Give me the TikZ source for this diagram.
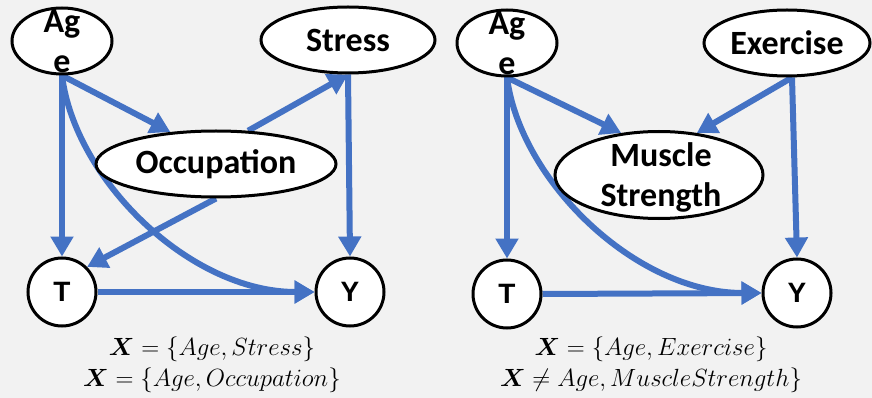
\documentclass[tikz,border=0pt]{standalone}
\usepackage{amsmath,bm}
\usepackage{fontspec}
\newfontfamily\calfont{Carlito}
\newfontfamily\arialfont{Liberation Sans}
\usetikzlibrary{arrows.meta,shapes.geometric}
\pgfdeclarelayer{back}
\pgfdeclarelayer{edges}
\pgfsetlayers{back,edges,main}
\definecolor{bgray}{HTML}{F2F2F2}
\definecolor{eblue}{HTML}{4472C4}
\tikzset{
  ell/.style={ellipse, draw, line width=3pt, fill=white, inner sep=0pt},
  circ/.style={circle, draw, line width=3pt, fill=white, minimum size=68pt, inner sep=0pt, font=\arialfont\bfseries\fontsize{28}{28}\selectfont},
  lbl/.style={font=\calfont\bfseries\fontsize{34}{40}\selectfont, align=center, inner sep=0pt},
  arr/.style={eblue, line width=6pt, -{Triangle[length=20pt,width=22pt]}},
  mathtxt/.style={font=\fontsize{25.5}{30}\selectfont, inner sep=0pt, anchor=base}
}
\begin{document}
\begin{tikzpicture}[x=1pt,y=-1pt]
\useasboundingbox (0,0) rectangle (872,398);
\begin{pgfonlayer}{back}
\fill[bgray] (0,0) rectangle (872,398);
\end{pgfonlayer}
% left diagram
\node[ell, minimum width=100pt, minimum height=66pt] (ageL) at (62,41) {};
\node[lbl] (ageLt) at (62,42) {Ag\\e};
\node[ell, lbl, minimum width=174pt, minimum height=66pt] (stress) at (348,40) {Stress};
\node[ell, lbl, minimum width=240pt, minimum height=66pt] (occ) at (216,164) {Occupation};
\node[circ] (tL) at (62,292) {T};
\node[circ] (yL) at (350,292) {Y};
% right diagram
\node[ell, minimum width=100pt, minimum height=66pt] (ageR) at (507,43) {};
\node[lbl] (ageRt) at (507,44) {Ag\\e};
\node[ell, lbl, minimum width=166pt, minimum height=66pt] (ex) at (787,43) {Exercise};
\node[ell, minimum width=208pt, minimum height=87pt] (ms) at (659,175) {};
\node[lbl] (mst) at (661,177) {Muscle\\Strength};
\node[circ] (tR) at (507,294) {T};
\node[circ] (yR) at (797,293) {Y};
% edges
\begin{pgfonlayer}{edges}
\draw[arr] (ageL.south) -- (tL.north);
\draw[arr] (ageL.south) -- (occ.145);
\draw[arr] (ageL.south) .. controls (75,180) and (190,292) .. (yL.west);
\draw[arr] (occ.46) -- (stress.south);
\draw[arr] (stress.south) -- (yL.north);
\draw[arr] (occ.south) -- (tL.45);
\draw[arr] (tL.east) -- (yL.west);
\draw[arr] (ageR.south) -- (tR.north);
\draw[arr] (ageR.south) -- (ms.132);
\draw[arr] (ageR.south) .. controls (520,180) and (635,293) .. (yR.west);
\draw[arr] ([xshift=5pt]ex.south) -- (ms.48);
\draw[arr] ([xshift=5pt]ex.south) -- (yR.north);
\draw[arr] (tR.east) -- (yR.west);
\end{pgfonlayer}
% formulas
\node[mathtxt] (f1) at (212,355) {$\bm{X}=\{Age,Stress\}$};
\node[mathtxt] (f2) at (212,386) {$\bm{X}=\{Age,Occupation\}$};
\node[mathtxt] (f3) at (651,355) {$\bm{X}=\{Age,Exercise\}$};
\node[mathtxt] (f4) at (651,386) {$\bm{X}\neq Age,MuscleStrength\}$};
\end{tikzpicture}
\end{document}
